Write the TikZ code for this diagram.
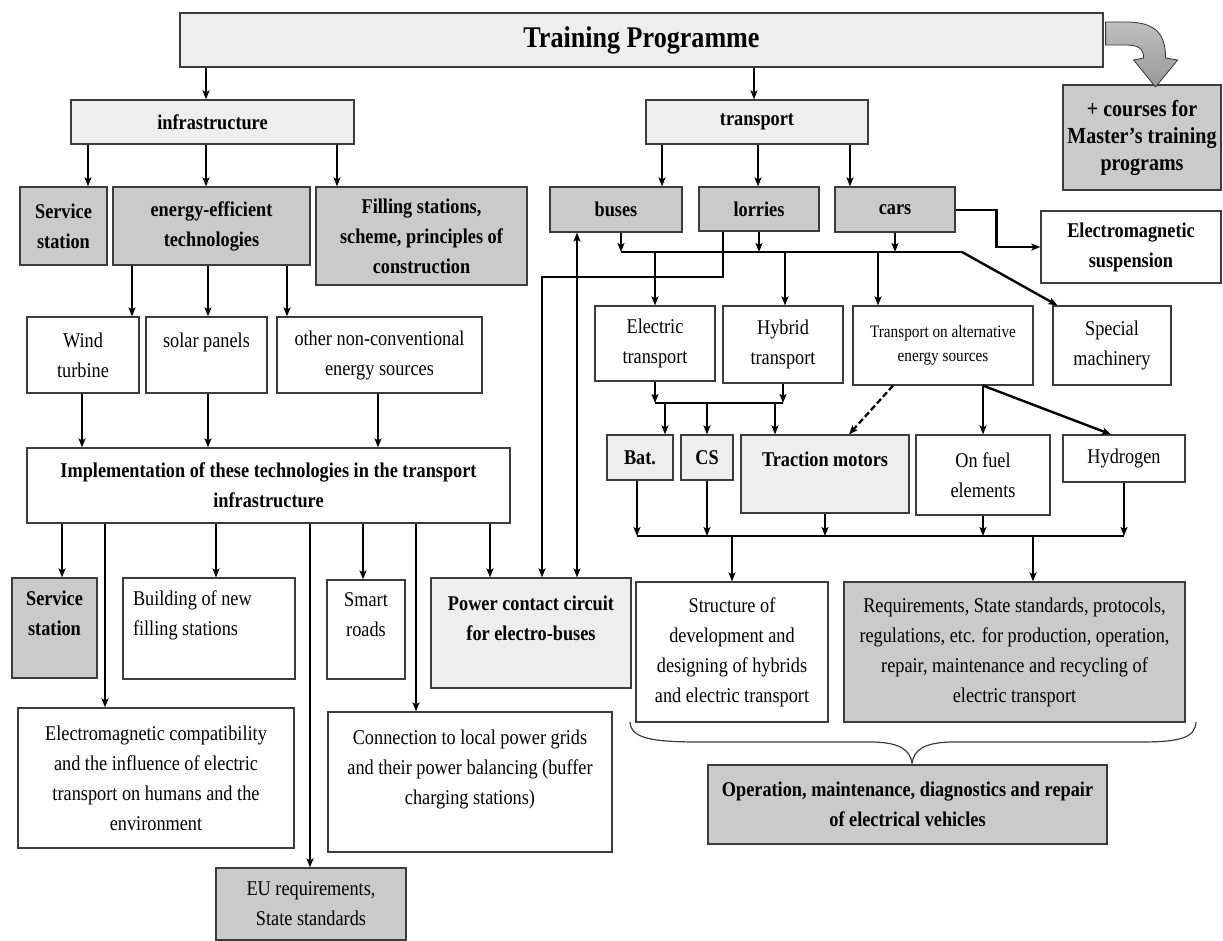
\documentclass[tikz,border=0pt]{standalone}
\usepackage{fontspec}
\setmainfont{Liberation Serif}[FakeStretch=0.87]
\usetikzlibrary{arrows.meta}
\definecolor{boxdark}{HTML}{CACACA}
\definecolor{boxlight}{HTML}{EEEEEE}
\definecolor{boxline}{HTML}{3C3C3C}
\begin{document}
\begin{tikzpicture}[x=1pt, y=-1pt,
  block/.style={draw=boxline, line width=1.2pt, fill=white, inner sep=0pt, align=center, font=\fontsize{21}{30}\selectfont},
  darkfill/.style={fill=boxdark},
  lightfill/.style={fill=boxlight},
  bold/.style={font=\fontsize{21}{30}\selectfont\bfseries},
  arr/.style={-{Stealth[length=9pt,width=7pt,inset=2pt]}, line width=1.5pt},
  thickarr/.style={arr, line width=2.4pt},
  busline/.style={line width=2.6pt}]
\useasboundingbox (0,0) rectangle (1223,941);

% Top level
\node[block, lightfill, font=\fontsize{30}{36}\selectfont\bfseries, minimum width=923, minimum height=54] (prog) at (641.5,40) {Training Programme};
\node[block, darkfill, font=\fontsize{23}{27}\selectfont\bfseries, minimum width=158, minimum height=105] (courses) at (1142,137.5) {+ courses for\\Master’s training\\programs};
\begin{scope}[shift={(prog.east)}]
\draw[draw=gray!40!black, line width=0.8pt, top color=gray!50, bottom color=gray!80] (2,-18) -- (22,-18) .. controls (50,-18) and (62,-8) .. (62,18) -- (74,20) -- (52,47) -- (30,20) -- (40,18) .. controls (40,8) and (34,5) .. (22,5) -- (2,5) -- cycle;
\end{scope}

% Infrastructure branch
\node[block, lightfill, bold, minimum width=283, minimum height=44] (infra) at (212.5,122) {infrastructure};
\node[block, darkfill, bold, minimum width=87, minimum height=78] (serv1) at (63.5,226) {Service\\station};
\node[block, darkfill, bold, minimum width=197, minimum height=78] (energy) at (211.5,226) {energy-efficient\\technologies};
\node[block, darkfill, bold, minimum width=211, minimum height=98] (filling) at (421.5,236) {Filling stations,\\scheme, principles of\\construction};
\node[block, minimum width=112, minimum height=76] (wind) at (83,355) {Wind\\turbine};
\node[block, minimum width=121, minimum height=76] (solar) at (206.5,355) {solar panels\\\mbox{}};
\node[block, minimum width=205, minimum height=76] (other) at (379.5,355) {other non-conventional\\energy sources};
\node[block, bold, minimum width=483, minimum height=75] (impl) at (268.5,485.5) {Implementation of these technologies in the transport\\infrastructure};
\node[block, darkfill, bold, minimum width=85, minimum height=100] (serv2) at (54.5,628) {Service\\station\\\mbox{}};
\node[block, minimum width=172, minimum height=101, text width=152, align=flush left] (build) at (209,628.5) {Building of new\\filling stations\\\mbox{}};
\node[block, minimum width=78, minimum height=99] (smart) at (366,629.5) {Smart\\roads\\\mbox{}};
\node[block, lightfill, bold, minimum width=200, minimum height=110] (power) at (531,633) {Power contact circuit\\for electro-buses\\\mbox{}};
\node[block, minimum width=276, minimum height=140] (emc) at (156,778) {Electromagnetic compatibility\\and the influence of electric\\transport on humans and the\\environment};
\node[block, minimum width=284, minimum height=140] (conn) at (470,782) {Connection to local power grids\\and their power balancing (buffer\\charging stations)\\\mbox{}};
\node[block, darkfill, minimum width=190, minimum height=72] (eu) at (311,904) {EU requirements,\\State standards};

% Transport branch
\node[block, lightfill, bold, minimum width=222, minimum height=44] (trans) at (757,122) {transport};
\node[block, darkfill, bold, minimum width=132, minimum height=45] (buses) at (616,209.5) {buses};
\node[block, darkfill, bold, minimum width=120, minimum height=44] (lorries) at (759,209) {lorries};
\node[block, darkfill, bold, minimum width=120, minimum height=45] (cars) at (895,209.5) {cars};
\node[block, bold, minimum width=180, minimum height=72] (emsusp) at (1131,247) {Electromagnetic\\suspension};
\node[block, minimum width=120, minimum height=75] (elec) at (655,343.5) {Electric\\transport};
\node[block, minimum width=120, minimum height=77] (hybrid) at (783,344.5) {Hybrid\\transport};
\node[block, font=\fontsize{17.5}{24}\selectfont, minimum width=180, minimum height=79] (alt) at (943,345.5) {Transport on alternative\\energy sources};
\node[block, minimum width=118, minimum height=79] (special) at (1112,345.5) {Special\\machinery};
\node[block, lightfill, bold, minimum width=66, minimum height=45] (bat) at (640,457.5) {Bat.};
\node[block, lightfill, bold, minimum width=52, minimum height=45] (cs) at (707,457.5) {CS};
\node[block, lightfill, bold, minimum width=168, minimum height=78] (traction) at (825,474) {Traction motors\\\mbox{}};
\node[block, minimum width=134, minimum height=80] (fuel) at (983,475) {On fuel\\elements};
\node[block, minimum width=122, minimum height=47] (hydro) at (1124,458.5) {Hydrogen};
\node[block, minimum width=192, minimum height=140] (struct) at (732,652) {Structure of\\development and\\designing of hybrids\\and electric transport};
\node[block, darkfill, minimum width=341, minimum height=140] (req) at (1014.5,652) {Requirements, State standards, protocols,\\regulations, etc. for production, operation,\\repair, maintenance and recycling of\\electric transport};
\node[block, darkfill, bold, minimum width=399, minimum height=79] (oper) at (907.5,804.5) {Operation, maintenance, diagnostics and repair\\of electrical vehicles};

% Connectors, infrastructure side
\draw[arr] (prog.south -| 206,0) -- (infra.north -| 206,0);
\draw[arr] (infra.south -| 88,0) -- (serv1.north -| 88,0);
\draw[arr] (infra.south -| 206,0) -- (energy.north -| 206,0);
\draw[arr] (infra.south -| 337,0) -- (filling.north -| 337,0);
\draw[arr] (energy.south -| 132,0) -- (wind.north -| 132,0);
\draw[arr] (energy.south -| 208,0) -- (solar.north -| 208,0);
\draw[arr] (energy.south -| 287,0) -- (other.north -| 287,0);
\draw[arr] (wind.south -| 82,0) -- (impl.north -| 82,0);
\draw[arr] (solar.south -| 208,0) -- (impl.north -| 208,0);
\draw[arr] (other.south -| 378,0) -- (impl.north -| 378,0);
\draw[arr] (impl.south -| 62,0) -- (serv2.north -| 62,0);
\draw[arr] (impl.south -| 105,0) -- (emc.north -| 105,0);
\draw[arr] (impl.south -| 216,0) -- (build.north -| 216,0);
\draw[arr] (impl.south -| 310,0) -- (eu.north -| 310,0);
\draw[arr] (impl.south -| 363,0) -- (smart.north -| 363,0);
\draw[arr] (impl.south -| 416,0) -- (conn.north -| 416,0);
\draw[arr] (impl.south -| 490,0) -- (power.north -| 490,0);

% Connectors, transport side
\draw[arr] (prog.south -| 754,0) -- (trans.north -| 754,0);
\draw[arr] (trans.south -| 662,0) -- (buses.north -| 662,0);
\draw[arr] (trans.south -| 758,0) -- (lorries.north -| 758,0);
\draw[arr] (trans.south -| 850,0) -- (cars.north -| 850,0);
\coordinate (bus1) at (621,252);
\coordinate (bus2) at (962,252);
\coordinate (lbend) at (542,277);
\draw[arr] (buses.south -| bus1) -- (bus1);
\draw[arr] (lorries.south) -- (lorries.south |- bus1);
\draw[arr] (cars.south) -- (cars.south |- bus1);
\draw[busline] (bus1) -- (bus2);
\draw[thickarr] (bus2) -- ([xshift=5]special.north west);
\draw[arr] (bus1 -| elec.north) -- (elec.north);
\draw[arr] (bus1 -| 785,0) -- (hybrid.north -| 785,0);
\draw[arr] (bus1 -| 878,0) -- (alt.north -| 878,0);
\draw[thickarr] (lorries.south -| 723,0) |- (lbend) -- (power.north -| lbend);
\draw[arr, {Stealth[length=9pt,width=7pt,inset=2pt]}-{Stealth[length=9pt,width=7pt,inset=2pt]}] (power.north -| 577,0) -- (buses.south -| 577,0);
\draw[thickarr] (cars.east |- 0,210) -| ([xshift=-44]emsusp.west) -- (emsusp.west);

\coordinate (j1) at (655,403);
\coordinate (j2) at (783,403);
\draw[arr] (elec.south) -- (j1);
\draw[arr] (hybrid.south) -- (j2);
\draw[busline] (j1) -- (j2);
\draw[arr] (j1 -| 665,0) -- (bat.north -| 665,0);
\draw[arr] (j1 -| cs.north) -- (cs.north);
\draw[arr] (j1 -| 775,0) -- (traction.north -| 775,0);
\draw[arr, line width=2.3pt, dash pattern=on 6pt off 3pt] (alt.south -| 893,0) -- ([xshift=24]traction.north);
\draw[arr] (alt.south -| fuel.north) -- (fuel.north);
\draw[thickarr] (alt.south -| fuel.north) -- ([xshift=-13]hydro.north);

\coordinate (c1) at (637,536);
\coordinate (c2) at (1124,536);
\draw[arr] (bat.south -| c1) -- (c1);
\draw[arr] (cs.south) -- (cs.south |- c1);
\draw[arr] (traction.south) -- (traction.south |- c1);
\draw[arr] (fuel.south) -- (fuel.south |- c1);
\draw[arr] (hydro.south) -- (c2);
\draw[busline] (c1) -- (c2);
\draw[arr] (c1 -| struct.north) -- (struct.north);
\draw[arr] (c1 -| 1033,0) -- (req.north -| 1033,0);

% brace under the two lower boxes
\draw[line width=1.2pt, boxline] (630,722) .. controls (631,738) and (650,742) .. (700,742) -- (870,742) .. controls (900,742) and (910,750) .. (912,763) .. controls (914,750) and (924,742) .. (954,742) -- (1140,742) .. controls (1180,742) and (1195,738) .. (1196,722);
\end{tikzpicture}
\end{document}
